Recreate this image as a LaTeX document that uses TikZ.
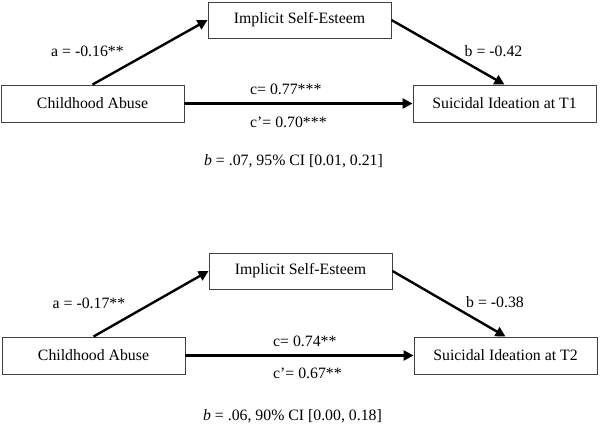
\documentclass[tikz,border=0pt]{standalone}
\usepackage{fontspec}
\setmainfont{Liberation Serif}
\usetikzlibrary{arrows.meta}
\begin{document}
\begin{tikzpicture}[x=1pt,y=-1pt,
  box/.style={draw=black!75,line width=0.9pt,minimum width=183pt,minimum height=37pt,inner sep=0pt,font=\fontsize{15.8}{19}\selectfont},
  lab/.style={inner sep=0pt,font=\fontsize{15.8}{19}\selectfont},
  arr/.style={line width=2.4pt,-{Triangle[length=10pt,width=10pt]}}]
\path[use as bounding box,fill=white] (0,0) rectangle (600,431);
% top panel
\node[box] (ca1) at (92.5,103.5) {Childhood Abuse};
\node[box,minimum height=36pt] (ise1) at (299.5,20) {Implicit Self-Esteem};
\node[box] (si1) at (504.5,103.5) {Suicidal Ideation at T1};
\draw[arr] (ca1.north) -- (ise1.west);
\draw[arr] (ise1.east) -- (si1.north);
\draw[arr] (ca1.east) -- (si1.west);
\node[lab] (la1) at (87.5,51) {a = -0.16**};
\node[lab] (lb1) at (493.5,51) {b = -0.42};
\node[lab,anchor=west] (lc1) at (250,89) {c= 0.77***};
\node[lab,anchor=west] (lcp1) at (250,122) {c’= 0.70***};
\node[lab] (ci1) at (293.5,161) {\textit{b} = .07, 95\% CI [0.01, 0.21]};
% bottom panel
\node[box] (ca2) at (93.5,355.5) {Childhood Abuse};
\node[box,minimum height=36pt] (ise2) at (300.5,271) {Implicit Self-Esteem};
\node[box] (si2) at (505.5,355.5) {Suicidal Ideation at T2};
\draw[arr] (ca2.north) -- (ise2.west);
\draw[arr] (ise2.east) -- (si2.north);
\draw[arr] (ca2.east) -- (si2.west);
\node[lab] (la2) at (89,303) {a = -0.17**};
\node[lab] (lb2) at (495,302) {b = -0.38};
\node[lab,anchor=west] (lc2) at (273,341) {c= 0.74**};
\node[lab,anchor=west] (lcp2) at (273,373) {c’= 0.67**};
\node[lab] (ci2) at (292.5,416) {\textit{b} = .06, 90\% CI [0.00, 0.18]};
\end{tikzpicture}
\end{document}
